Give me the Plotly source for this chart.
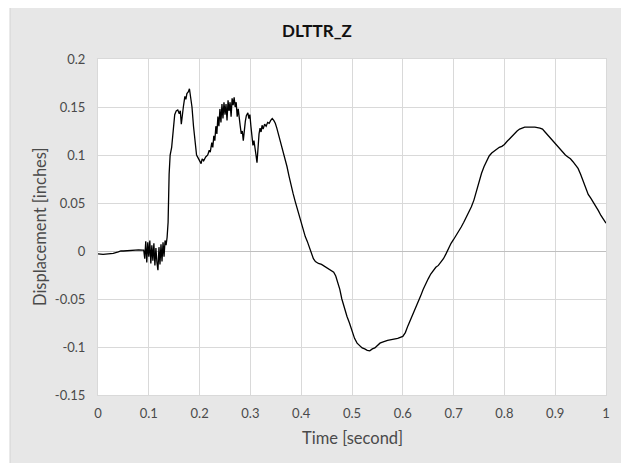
import plotly.graph_objects as go

# ---------------- data ----------------
time_s = [
    0.000, 0.010, 0.020, 0.030, 0.040, 0.045, 0.050, 0.060, 0.070, 0.080, 0.088,
    0.090, 0.092, 0.094, 0.096, 0.098, 0.100, 0.102, 0.104, 0.106, 0.108, 0.110,
    0.112, 0.114, 0.116, 0.118, 0.120, 0.122, 0.124, 0.126, 0.128, 0.130, 0.132,
    0.134, 0.136, 0.138, 0.140, 0.142, 0.145, 0.148, 0.151, 0.154, 0.157, 0.160,
    0.162, 0.164, 0.166, 0.168, 0.171, 0.173, 0.175, 0.178, 0.180, 0.182, 0.185,
    0.188, 0.191, 0.194, 0.197, 0.200, 0.203, 0.205, 0.208, 0.212, 0.216, 0.219,
    0.221, 0.224, 0.226, 0.228, 0.230, 0.232, 0.234, 0.236, 0.238, 0.240, 0.242,
    0.244, 0.246, 0.248, 0.250, 0.252, 0.254, 0.256, 0.258, 0.260, 0.262, 0.264,
    0.266, 0.268, 0.270, 0.272, 0.274, 0.276, 0.278, 0.280, 0.282, 0.284, 0.286,
    0.288, 0.290, 0.292, 0.295, 0.297, 0.299, 0.301, 0.303, 0.305, 0.307, 0.309,
    0.311, 0.313, 0.315, 0.317, 0.319, 0.321, 0.323, 0.325, 0.328, 0.331, 0.334,
    0.337, 0.340, 0.343, 0.346, 0.349, 0.352, 0.356, 0.360, 0.364, 0.368, 0.372,
    0.376, 0.380, 0.384, 0.388, 0.392, 0.396, 0.400, 0.404, 0.408, 0.412, 0.416,
    0.420, 0.424, 0.428, 0.434, 0.440, 0.446, 0.452, 0.458, 0.464, 0.468, 0.472,
    0.476, 0.480, 0.485, 0.490, 0.495, 0.500, 0.505, 0.510, 0.515, 0.520, 0.525,
    0.530, 0.535, 0.540, 0.545, 0.550, 0.555, 0.560, 0.570, 0.580, 0.590, 0.600,
    0.605, 0.610, 0.615, 0.620, 0.625, 0.630, 0.635, 0.640, 0.645, 0.650, 0.655,
    0.660, 0.665, 0.670, 0.675, 0.680, 0.685, 0.690, 0.695, 0.700, 0.705, 0.710,
    0.715, 0.720, 0.725, 0.730, 0.735, 0.740, 0.745, 0.750, 0.755, 0.760, 0.765,
    0.770, 0.775, 0.780, 0.785, 0.790, 0.795, 0.800, 0.805, 0.810, 0.815, 0.820,
    0.825, 0.830, 0.835, 0.840, 0.850, 0.860, 0.870, 0.875, 0.880, 0.885, 0.890,
    0.895, 0.900, 0.905, 0.910, 0.915, 0.920, 0.925, 0.930, 0.935, 0.940, 0.945,
    0.950, 0.955, 0.960, 0.965, 0.970, 0.975, 0.980, 0.985, 0.990, 0.995, 1.000,
]

displacement_in = [
    -0.003, -0.0035, -0.003, -0.0025, -0.001, 0.000, 0.000, 0.0005, 0.001, 0.0012, 0.001,
    0.001, -0.008, 0.010, -0.012, 0.009, -0.006, 0.011, -0.013, 0.006, -0.010, 0.008,
    -0.015, 0.003, -0.012, -0.020, 0.004, -0.014, 0.007, -0.011, 0.009, -0.006, 0.011,
    0.006, 0.014, 0.030, 0.080, 0.100, 0.108, 0.125, 0.142, 0.146, 0.147, 0.143,
    0.146, 0.132, 0.145, 0.150, 0.161, 0.158, 0.164, 0.166, 0.169, 0.163, 0.150,
    0.130, 0.112, 0.100, 0.097, 0.094, 0.091, 0.096, 0.094, 0.098, 0.100, 0.105,
    0.103, 0.113, 0.108, 0.120, 0.115, 0.130, 0.122, 0.140, 0.130, 0.148, 0.134,
    0.153, 0.138, 0.155, 0.142, 0.153, 0.136, 0.157, 0.146, 0.155, 0.140, 0.159,
    0.152, 0.160, 0.150, 0.155, 0.140, 0.148, 0.135, 0.130, 0.122, 0.125, 0.115,
    0.128, 0.135, 0.141, 0.144, 0.138, 0.142, 0.130, 0.122, 0.110, 0.115, 0.104,
    0.100, 0.092, 0.110, 0.122, 0.128, 0.124, 0.131, 0.127, 0.132, 0.130, 0.134,
    0.133, 0.136, 0.138, 0.136, 0.133, 0.128, 0.120, 0.114, 0.105, 0.097, 0.088,
    0.078, 0.068, 0.060, 0.052, 0.044, 0.036, 0.030, 0.022, 0.015, 0.010, 0.004,
    -0.002, -0.008, -0.011, -0.013, -0.014, -0.016, -0.018, -0.020, -0.022, -0.026, -0.033,
    -0.040, -0.050, -0.060, -0.068, -0.075, -0.083, -0.091, -0.096, -0.099, -0.101, -0.102,
    -0.1035, -0.104, -0.102, -0.101, -0.098, -0.096, -0.095, -0.093, -0.092, -0.091, -0.089,
    -0.085, -0.078, -0.072, -0.065, -0.059, -0.053, -0.047, -0.040, -0.034, -0.029, -0.024,
    -0.020, -0.017, -0.015, -0.012, -0.008, -0.003, 0.003, 0.008, 0.012, 0.016, 0.021,
    0.025, 0.030, 0.035, 0.040, 0.046, 0.053, 0.063, 0.072, 0.081, 0.088, 0.094,
    0.099, 0.102, 0.104, 0.106, 0.108, 0.109, 0.111, 0.114, 0.117, 0.120, 0.123,
    0.125, 0.127, 0.128, 0.129, 0.129, 0.129, 0.128, 0.127, 0.124, 0.121, 0.118,
    0.115, 0.112, 0.108, 0.105, 0.102, 0.100, 0.098, 0.096, 0.093, 0.090, 0.086,
    0.080, 0.073, 0.066, 0.059, 0.055, 0.051, 0.047, 0.042, 0.037, 0.033, 0.029,
]

x_tick_vals = [0, 0.1, 0.2, 0.3, 0.4, 0.5, 0.6, 0.7, 0.8, 0.9, 1.0]
x_tick_text = ["0", "0.1", "0.2", "0.3", "0.4", "0.5", "0.6", "0.7", "0.8", "0.9", "1"]
y_tick_vals = [-0.15, -0.1, -0.05, 0, 0.05, 0.1, 0.15, 0.2]
y_tick_text = ["-0.15", "-0.1", "-0.05", "0", "0.05", "0.1", "0.15", "0.2"]

chart_title = "DLTTR_Z"
x_title = "Time [second]"
y_title = "Displacement [inches]"

# ---------------- figure ----------------
# page has an 8px body margin, so the figure is sized to fit the 629x463 window
OFF = 8
W, H = 629 - OFF, 463 - OFF
ML, MR, MT, MB = 90, 23, 51, 68
pw, ph = W - ML - MR, H - MT - MB

def px_x(px_page):
    return (px_page - OFF - ML) / pw

def px_y(py_page):
    return (H - MB - (py_page - OFF)) / ph

FONT = "Lato, 'Open Sans', sans-serif"
TXT = "#4a4a4a"
GRID = "#d9d9d9"

fig = go.Figure()
fig.add_trace(go.Scatter(
    x=time_s, y=displacement_in, mode="lines",
    line=dict(color="#000000", width=1.3), showlegend=False, hoverinfo="skip",
))

shapes = [
    # gray chart area
    dict(type="rect", xref="paper", yref="paper", layer="below",
         x0=px_x(10), x1=px_x(624), y0=px_y(470), y1=px_y(5),
         fillcolor="#e7e7e7", line=dict(color="#d4d4d4", width=1)),
    # white plot area
    dict(type="rect", xref="paper", yref="paper", layer="below",
         x0=0, x1=1, y0=0, y1=1, fillcolor="#ffffff", line=dict(width=0)),
]

annotations = [
    dict(text=y_title, xref="paper", yref="paper", x=px_x(40), y=0.5,
         textangle=-90, showarrow=False, xanchor="center", yanchor="middle",
         font=dict(family=FONT, size=16.5, color=TXT)),
    dict(text=x_title, xref="paper", yref="paper", x=0.5, y=px_y(438),
         showarrow=False, xanchor="center", yanchor="middle",
         font=dict(family=FONT, size=16.5, color=TXT)),
]

fig.update_layout(
    width=W, height=H,
    margin=dict(l=ML, r=MR, t=MT, b=MB, autoexpand=False),
    paper_bgcolor="#ffffff",
    plot_bgcolor="rgba(0,0,0,0)",
    title=dict(text="<b>" + chart_title + "</b>", x=(317 - OFF) / W, y=1 - (31 - OFF) / H,
               xref="container", yref="container", xanchor="center", yanchor="middle",
               font=dict(family=FONT, size=17, color="#111111")),
    shapes=shapes,
    annotations=annotations,
    showlegend=False,
)

fig.update_xaxes(
    range=[0, 1], tickvals=x_tick_vals, ticktext=x_tick_text,
    showgrid=True, gridcolor=GRID, gridwidth=1, zeroline=False,
    showline=True, mirror=True, linecolor=GRID, linewidth=1,
    ticks="", ticklabelstandoff=6,
    tickfont=dict(family=FONT, size=13, color=TXT),
)
fig.update_yaxes(
    range=[-0.15, 0.2], tickvals=y_tick_vals, ticktext=y_tick_text,
    showgrid=True, gridcolor=GRID, gridwidth=1,
    zeroline=True, zerolinecolor="#bfbfbf", zerolinewidth=1,
    showline=True, mirror=True, linecolor=GRID, linewidth=1,
    ticks="", ticklabelstandoff=9,
    tickfont=dict(family=FONT, size=13, color=TXT),
)

fig.write_html("out.html")
